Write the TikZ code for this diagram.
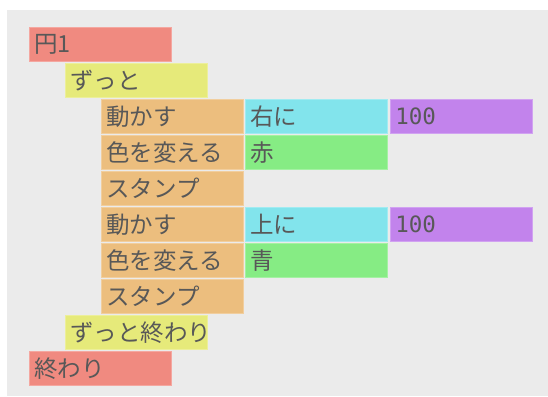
\documentclass[tikz,border=0pt]{standalone}
\usepackage{fontspec}
\newfontfamily\jpfont{Noto Sans CJK JP}
\newfontfamily\monofont{DejaVu Sans Mono}
\definecolor{bgc}{HTML}{EBEBEB}
\definecolor{cred}{HTML}{F08A80}
\definecolor{cyel}{HTML}{E6EA7A}
\definecolor{cora}{HTML}{ECBE7E}
\definecolor{ccya}{HTML}{82E4EC}
\definecolor{cgrn}{HTML}{86EC84}
\definecolor{cpur}{HTML}{C283EC}
\definecolor{ctxt}{HTML}{585858}
\newcommand{\bxt}[1]{\makebox[132pt][l]{\raisebox{-1.5pt}{#1}}}
\tikzset{
  blk/.style={anchor=north west, minimum width=142pt, minimum height=34pt,
    inner xsep=5pt, inner ysep=0pt,
    font=\jpfont\fontsize{23.5}{26}\selectfont, text=ctxt, line width=0.8pt},
  rblk/.style={blk, fill=cred, draw=cred!75!white},
  yblk/.style={blk, fill=cyel, draw=cyel!75!white},
  oblk/.style={blk, fill=cora, draw=cora!75!white},
  cblk/.style={blk, fill=ccya, draw=ccya!75!white},
  gblk/.style={blk, fill=cgrn, draw=cgrn!75!white},
  pblk/.style={blk, fill=cpur, draw=cpur!75!white, font=\monofont\fontsize{22.5}{26}\selectfont},
}
\begin{document}
\begin{tikzpicture}[x=1pt, y=-1pt]
\useasboundingbox (0,0) rectangle (548,396);
\fill[white] (0,0) rectangle (548,396);
\fill[bgc] (7,10) rectangle (548,396);
\node[rblk] (en1) at (29,27) {\bxt{円1}};
\node[yblk] (zutto) at (65,63) {\bxt{ずっと}};
\node[oblk] (ugo1) at (101,99) {\bxt{動かす}};
\node[cblk] (migi) at (245,99) {\bxt{右に}};
\node[pblk] (n1) at (390,99) {\bxt{100}};
\node[oblk] (iro1) at (101,135) {\bxt{色を変える}};
\node[gblk] (aka) at (245,135) {\bxt{赤}};
\node[oblk] (st1) at (101,171) {\bxt{スタンプ}};
\node[oblk] (ugo2) at (101,207) {\bxt{動かす}};
\node[cblk] (ue) at (245,207) {\bxt{上に}};
\node[pblk] (n2) at (390,207) {\bxt{100}};
\node[oblk] (iro2) at (101,243) {\bxt{色を変える}};
\node[gblk] (ao) at (245,243) {\bxt{青}};
\node[oblk] (st2) at (101,279) {\bxt{スタンプ}};
\node[yblk] (zend) at (65,315) {\bxt{ずっと終わり}};
\node[rblk] (owari) at (29,351) {\bxt{終わり}};
\end{tikzpicture}
\end{document}
